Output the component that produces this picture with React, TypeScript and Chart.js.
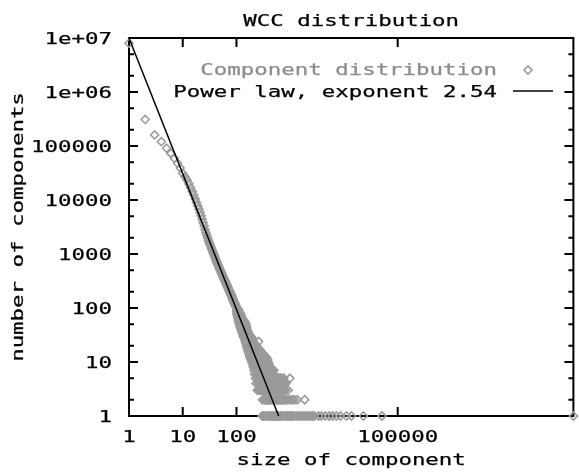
import React, { useEffect, useRef } from "react";
import { Chart, registerables } from "chart.js";

Chart.register(...registerables);

// ---- Data ----
// counts for component sizes 1..10
const headCounts = [8.0e6, 3.1e5, 1.6e5, 1.2e5, 9.1e4, 7.3e4, 5.9e4, 4.8e4, 3.9e4, 3.1e4];
// counts for component sizes 11..100
const bodyCounts = [
  27000, 23500, 20000, 17000, 14500, 12500, 10500, 9000, 7800, 6800,
  5900, 5100, 4400, 3800, 3300, 2800, 2480, 2220, 1990, 1790,
  1640, 1510, 1400, 1295, 1200, 1110, 1040, 975, 915, 860,
  790, 750, 712, 672, 640, 605, 575, 548, 520, 498,
  475, 455, 430, 420, 400, 385, 372, 350, 345, 330,
  318, 305, 300, 282, 278, 268, 255, 250, 240, 234,
  225, 220, 210, 206, 198, 195, 186, 183, 175, 172,
  168, 160, 158, 150, 149, 142, 140, 134, 133, 127,
  126, 120, 121, 114, 115, 109, 110, 104, 106, 100,
];
// tail: for each count, the component sizes seen with that count
const tailRowCounts = [1, 2, 3, 4, 5, 6, 7, 8, 9, 10, 11, 12, 13, 14, 15, 16, 17, 18, 19, 20, 22, 24, 26, 28, 30, 33, 36, 40, 44, 48, 52, 56, 60, 65, 70, 75, 80, 85, 90, 95];
const tailRowSizes = [
  [300, 322, 345, 368, 390, 402, 431, 455, 478, 512, 535, 560, 590, 615, 660, 700, 730, 795, 858, 900, 940, 1018, 1060, 1110, 1215, 1322, 1430, 1570, 1700, 1860, 2015, 2210, 2390, 2620, 2830, 3370, 3800, 4500, 5300, 6100, 7200, 8600, 11100, 13800, 23000, 51000, 186000000],
  [305, 330, 345, 365, 380, 400, 420, 440, 462, 505, 530, 555, 585, 610, 640, 672, 705, 740, 780, 815, 897, 988, 1090, 1200, 1360, 1860],
  [243, 255, 266, 280, 292, 305, 320, 335, 352, 370, 386, 405, 424, 445, 466, 490, 512, 535, 562, 590, 617, 645, 678, 710, 745, 780, 818, 915],
  [230, 252, 265, 277, 290, 304, 320, 334, 350, 367, 385, 403, 420, 442, 465, 486, 510, 534, 560, 586, 615, 644, 675, 707, 765, 830],
  [225, 247, 260, 271, 285, 298, 312, 327, 342, 360, 377, 395, 415, 434, 455, 476, 500, 523, 550, 575, 600, 631, 660, 693, 760, 985],
  [216, 236, 247, 258, 270, 282, 295, 308, 322, 336, 350, 367, 384, 401, 420, 440, 462, 485],
  [212, 232, 243, 254, 266, 278, 290, 303, 317, 331, 346, 362, 378, 396, 414, 433, 450, 470, 500],
  [205, 224, 235, 245, 256, 268, 280, 293, 306, 320, 335, 350, 366, 383, 400, 420],
  [200, 219, 229, 240, 250, 262, 274, 286, 300, 313, 327, 342, 358, 374, 405],
  [192, 210, 220, 230, 240, 251, 262, 274, 287, 300, 314, 328, 343, 358, 392],
  [186, 203, 212, 222, 232, 243, 254, 265, 277, 290, 303, 317, 331, 347, 380],
  [178, 195, 204, 213, 223, 233, 244, 255, 267, 279, 292, 305, 319, 333, 365],
  [176, 192, 201, 210, 220, 230, 240, 251, 263, 275, 287, 300, 335],
  [172, 188, 197, 206, 215, 225, 235, 246, 257, 269, 281, 294, 320],
  [168, 184, 192, 201, 210, 220, 230, 240, 251, 262, 274, 286],
  [165, 180, 188, 197, 206, 215, 225, 235, 246, 257, 268, 281],
  [162, 177, 185, 193, 202, 211, 221, 231, 241, 252, 270],
  [160, 175, 183, 191, 200, 209, 218, 228, 239, 250],
  [157, 172, 180, 188, 196, 205, 214, 224, 234, 245],
  [153, 167, 175, 183, 191, 200, 209, 218, 227, 236],
  [150, 157, 164, 171, 179, 187, 196, 205, 214],
  [145, 151, 158, 165, 173, 181, 189, 198, 207, 258],
  [142, 148, 155, 162, 169, 177, 185, 192, 200],
  [138, 144, 151, 158, 165, 172, 180, 186, 192],
  [133, 139, 145, 152, 159, 166, 173, 180, 186],
  [130, 136, 142, 148, 155, 162, 170],
  [125, 131, 137, 143, 150, 157, 165],
  [121, 126, 132, 138, 145, 151, 158],
  [117, 122, 128, 134, 140, 147, 155],
  [114, 119, 125, 131, 137, 144, 152],
  [112, 117, 122, 128, 134, 141, 148],
  [110, 115, 120, 125, 131, 136, 142],
  [108, 113, 118, 123, 128, 136],
  [106, 111, 116, 121, 127],
  [104, 109, 114, 119, 124],
  [103, 107, 112, 116, 120],
  [101, 105, 110, 114, 118],
  [102, 107, 112],
  [101, 104, 108],
  [103, 106, 109],
];
// power-law fit endpoints (exponent 2.54)
const powerLawSizes = [1, 610];
const powerLawCounts = [1e7, 1];

const titleText = "WCC distribution";
const seriesLabel = "Component distribution";
const fitLabel = "Power law, exponent 2.54";
const xTitle = "size of component";
const yTitle = "number of components";

const xTickValues = [1, 10, 100, 100000];
const xTickLabels = ["1", "10", "100", "100000"];
const yTickValues = [1, 10, 100, 1000, 10000, 100000, 1e6, 1e7];
const yTickLabels = ["1", "10", "100", "1000", "10000", "100000", "1e+06", "1e+07"];
const yMinorMultipliers = [2, 5];

const X_MIN = 1;
const X_MAX = 1.86e8;
const Y_MIN = 1;
const Y_MAX = 1e7;

// ---- Styles ----
const FONT = '16px "DejaVu Sans Mono", "Liberation Mono", monospace';
const SX = 1.4;
const POINT_COLOR = "#9a9a9a";
const POINT_RADIUS = 4;
const POINT_BORDER = 1.6;

function buildPoints() {
  const pts: { x: number; y: number }[] = [];
  headCounts.forEach((c, i) => pts.push({ x: i + 1, y: c }));
  bodyCounts.forEach((c, i) => pts.push({ x: i + 11, y: c }));
  tailRowCounts.forEach((c, r) => {
    tailRowSizes[r].forEach((s) => pts.push({ x: s, y: c }));
  });
  return pts;
}

function drawText(
  ctx: CanvasRenderingContext2D,
  s: string,
  x: number,
  y: number,
  align: CanvasTextAlign,
  color: string,
  rot = 0
) {
  ctx.save();
  ctx.translate(x, y);
  if (rot) ctx.rotate(rot);
  ctx.scale(SX, 1);
  ctx.font = FONT;
  ctx.textAlign = align;
  ctx.textBaseline = "alphabetic";
  ctx.fillStyle = color;
  ctx.strokeStyle = color;
  ctx.lineWidth = 0.25;
  ctx.fillText(s, 0, 0);
  ctx.strokeText(s, 0, 0);
  ctx.restore();
}

const gnuplotPlugin = {
  id: "gnuplotFrame",
  beforeDatasetsDraw(chart: any) {
    const { ctx, chartArea } = chart;
    const { left, right, top, bottom } = chartArea;
    const xs = chart.scales.x;
    const ys = chart.scales.y;
    ctx.save();
    ctx.strokeStyle = "#000";
    ctx.lineWidth = 2;
    ctx.strokeRect(left, top, right - left, bottom - top);
    ctx.beginPath();
    yTickValues.forEach((v) => {
      const py = ys.getPixelForValue(v);
      ctx.moveTo(left, py);
      ctx.lineTo(left + 9, py);
      ctx.moveTo(right, py);
      ctx.lineTo(right - 9, py);
      if (v < Y_MAX) {
        yMinorMultipliers.forEach((m) => {
          const pm = ys.getPixelForValue(v * m);
          ctx.moveTo(left, pm);
          ctx.lineTo(left + 5, pm);
          ctx.moveTo(right, pm);
          ctx.lineTo(right - 5, pm);
        });
      }
    });
    xTickValues.forEach((v) => {
      if (v === X_MIN) return;
      const px = xs.getPixelForValue(v);
      ctx.moveTo(px, bottom);
      ctx.lineTo(px, bottom - 9);
      ctx.moveTo(px, top);
      ctx.lineTo(px, top + 9);
    });
    ctx.stroke();
    ctx.restore();
  },
  afterDraw(chart: any) {
    const { ctx, chartArea } = chart;
    const { left, right, top, bottom } = chartArea;
    const xs = chart.scales.x;
    const ys = chart.scales.y;
    const cx = (left + right) / 2;
    const cy = (top + bottom) / 2;

    drawText(ctx, titleText, cx, 26, "center", "#000");

    yTickValues.forEach((v, i) => {
      const py = ys.getPixelForValue(v);
      drawText(ctx, yTickLabels[i], 112, py + 6, "right", "#000");
    });
    xTickValues.forEach((v, i) => {
      const px = xs.getPixelForValue(v);
      drawText(ctx, xTickLabels[i], px, 442, "center", "#000");
    });

    drawText(ctx, xTitle, cx, 465, "center", "#000");
    drawText(ctx, yTitle, 23, cy, "center", "#000", -Math.PI / 2);

    // legend (gnuplot style: text right-aligned, sample on the right)
    drawText(ctx, seriesLabel, 497, 75, "right", "#8c8c8c");
    drawText(ctx, fitLabel, 497, 96.5, "right", "#000");
    ctx.save();
    ctx.strokeStyle = POINT_COLOR;
    ctx.lineWidth = POINT_BORDER;
    ctx.beginPath();
    const dx = 528, dy = 70, r = POINT_RADIUS;
    ctx.moveTo(dx - r, dy);
    ctx.lineTo(dx, dy - r);
    ctx.lineTo(dx + r, dy);
    ctx.lineTo(dx, dy + r);
    ctx.closePath();
    ctx.stroke();
    ctx.strokeStyle = "#000";
    ctx.lineWidth = 1.5;
    ctx.beginPath();
    ctx.moveTo(513, 91);
    ctx.lineTo(553, 91);
    ctx.stroke();
    ctx.restore();
  },
};

export default function App() {
  const ref = useRef<HTMLCanvasElement | null>(null);
  useEffect(() => {
    const canvas = ref.current;
    if (!canvas) return;
    const chart = new Chart(canvas, {
      type: "scatter",
      data: {
        datasets: [
          {
            label: fitLabel,
            data: powerLawSizes.map((s, i) => ({ x: s, y: powerLawCounts[i] })),
            showLine: true,
            borderColor: "#000",
            borderWidth: 1.5,
            pointRadius: 0,
            clip: false as any,
            order: 0,
          },
          {
            label: seriesLabel,
            data: buildPoints(),
            showLine: false,
            pointStyle: "rectRot",
            pointRadius: POINT_RADIUS,
            pointBorderWidth: POINT_BORDER,
            pointBorderColor: POINT_COLOR,
            pointBackgroundColor: "rgba(0,0,0,0)",
            clip: false as any,
            order: 1,
          },
        ],
      },
      options: {
        responsive: false,
        animation: false,
        devicePixelRatio: 1,
        layout: { padding: { left: 129, right: 3, top: 38, bottom: 56 } },
        scales: {
          x: { type: "logarithmic", min: X_MIN, max: X_MAX, display: false },
          y: { type: "logarithmic", min: Y_MIN, max: Y_MAX, display: false },
        },
        plugins: {
          legend: { display: false },
          title: { display: false },
          tooltip: { enabled: false },
        },
        events: [],
      },
      plugins: [gnuplotPlugin],
    } as any);
    return () => chart.destroy();
  }, []);
  return (
    <div style={{ position: "absolute", left: 0, top: 0, width: 579, height: 472, background: "#fff" }}>
      <canvas ref={ref} width={579} height={472} style={{ display: "block", width: 579, height: 472 }} />
    </div>
  );
}
